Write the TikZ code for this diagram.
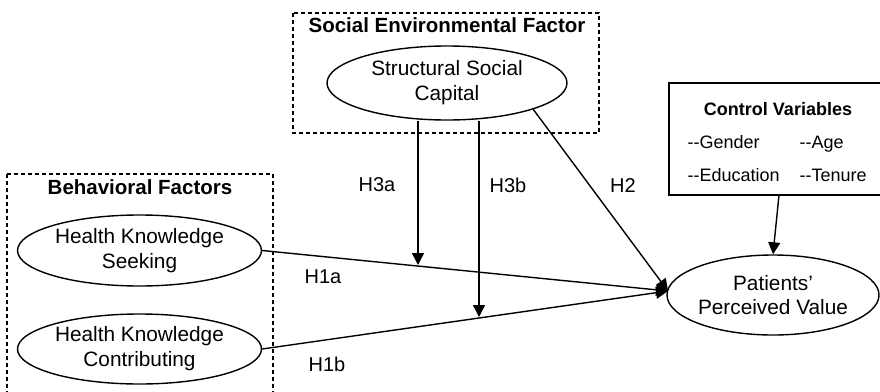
\documentclass[tikz,border=0pt]{standalone}
\usepackage{fontspec}
\setmainfont{Liberation Sans}
\usetikzlibrary{shapes.geometric,arrows.meta}
\begin{document}
\begin{tikzpicture}[x=1pt,y=-1pt,
  every node/.style={font=\fontsize{20.8}{24.8}\selectfont},
  construct/.style={draw,ellipse,line width=1.4pt,inner sep=0pt,align=center},
  groupbox/.style={draw,dashed,dash pattern=on 4pt off 3pt,line width=1.3pt},
  link/.style={line width=1.4pt,-{Triangle[width=12pt,length=12pt]}},
  hlabel/.style={font=\fontsize{20}{23}\selectfont},
  cvtext/.style={font=\fontsize{18}{22}\selectfont,anchor=base west},
  title/.style={font=\bfseries\fontsize{20.5}{24}\selectfont}]
\useasboundingbox (0,0) rectangle (880,391);
% group boxes
\draw[groupbox] (293,13) rectangle (599,133);
\node[title] (setitle) at (447,25) {Social Environmental Factor};
\draw[groupbox] (7,174) rectangle (273,400);
\node[title] (bftitle) at (140,187) {Behavioral Factors};
% control variables
\draw[line width=1.4pt] (669,83) rectangle (884,195);
\coordinate (cvbottom) at (779,195);
\node[font=\bfseries\fontsize{18}{22}\selectfont] (cvtitle) at (778,109) {Control Variables};
\node[cvtext] (gender) at (684,148) {-{}-Gender};
\node[cvtext] (age) at (796,148) {-{}-Age};
\node[cvtext] (edu) at (684,181) {-{}-Education};
\node[cvtext] (ten) at (796,181) {-{}-Tenure};
% constructs
\node[construct,minimum width=240pt,minimum height=74pt] (ssc) at (447,83) {Structural Social\\Capital};
\node[construct,minimum width=244pt,minimum height=71pt] (hks) at (139.5,250.5) {Health Knowledge\\Seeking};
\node[construct,minimum width=244pt,minimum height=70pt] (hkc) at (139.5,349) {Health Knowledge\\Contributing};
\node[construct,minimum width=210pt,minimum height=80pt] (ppv) at (773,295) {Patients'\\Perceived Value};
% connectors
\coordinate (ppvin) at (668,291);
\coordinate (h3atip) at (418,265);
\coordinate (h3btip) at (479,317);
\draw[link] (hks.east) -- (ppvin);
\draw[link] (hkc.east) -- (ppvin);
\draw[link] (ssc.-17) -- (ppvin);
\draw[link] (ssc.south -| h3atip) -- (h3atip);
\draw[link] (ssc.south -| h3btip) -- (h3btip);
\draw[link] (cvbottom) -- (ppv.north);
% labels
\node[hlabel] (l3a) at (377,185) {H3a};
\node[hlabel] (l3b) at (508,185) {H3b};
\node[hlabel] (l2) at (623,186) {H2};
\node[hlabel] (l1a) at (323,277) {H1a};
\node[hlabel] (l1b) at (327,364) {H1b};
\end{tikzpicture}
\end{document}
